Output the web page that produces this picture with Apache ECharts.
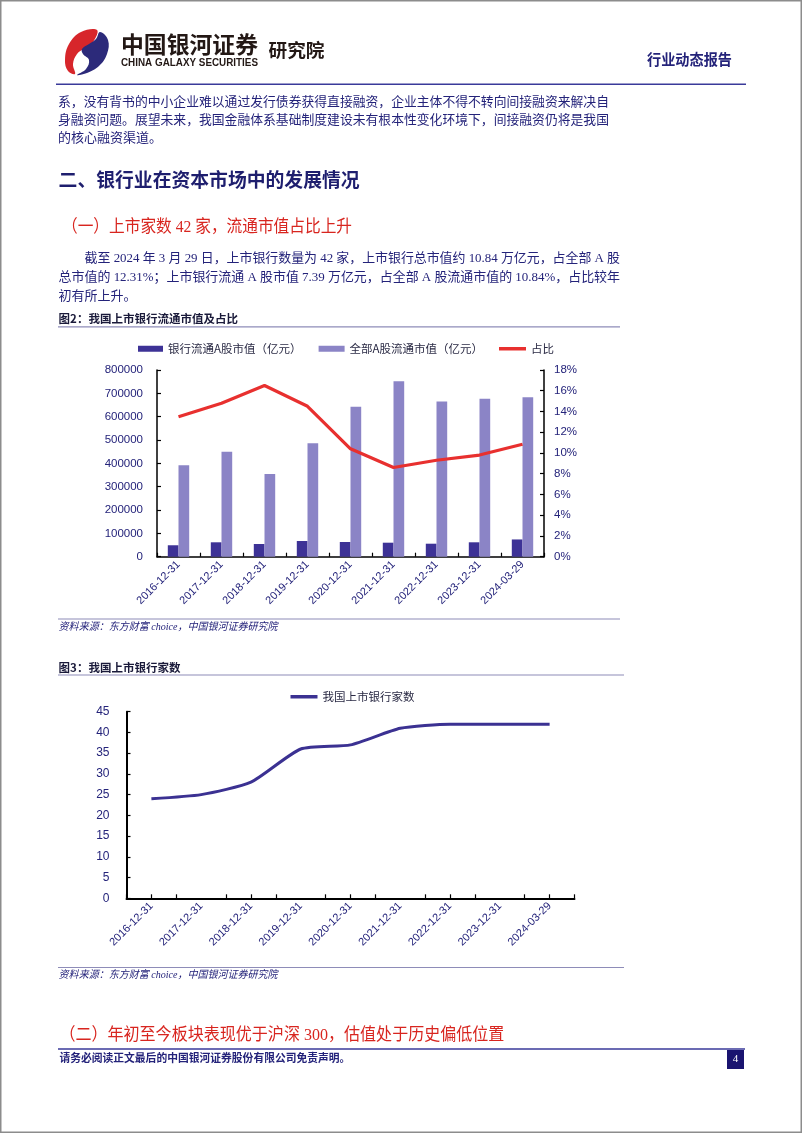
<!DOCTYPE html>
<html><head><meta charset="utf-8">
<script src="https://cdn.jsdelivr.net/npm/echarts@6/dist/echarts.min.js"></script>
<style>html,body{margin:0;padding:0;background:#fff}#c{width:802px;height:1133px}</style>
</head><body><div id="c"></div><script>
// ---------- data ----------
const dates = ['2016-12-31','2017-12-31','2018-12-31','2019-12-31','2020-12-31','2021-12-31','2022-12-31','2023-12-31','2024-03-29'];
const bankFloat = [49000, 61700, 54400, 67300, 63000, 60000, 55700, 61700, 73900];
const allFloat  = [391700, 450000, 354400, 486000, 643000, 752000, 665000, 677000, 683000];
const ratioPct  = [13.5, 14.8, 16.5, 14.5, 10.4, 8.6, 9.3, 9.8, 10.84];
const bankCount = [24, 25, 28, 36, 37, 41, 42, 42, 42];
const seriesNames1 = ['银行流通A股市值（亿元）', '全部A股流通市值（亿元）', '占比'];
const seriesName2 = '我国上市银行家数';

// ---------- styles ----------
const NAVY = '#24237a', RED = '#d8251f', DARKBAR = '#3d3296', LIGHTBAR = '#8b84c6', LINERED = '#e8302f', LINE2 = '#3b3192';
const SERIF = '"Liberation Serif","Noto Sans CJK SC"';
const SANS = '"Noto Sans CJK SC","Liberation Sans"';
const AX = '"Liberation Sans",Arial';

const mctx = document.createElement('canvas').getContext('2d');
function txt(text, x, y, font, fill, fitW) {
  let sx = 1;
  if (fitW) { mctx.font = font; const w = mctx.measureText(text).width; sx = fitW / w; }
  return { type: 'text', x: x, y: y, scaleX: sx, silent: true,
    style: { text: text, font: font, fill: fill, align: 'left', verticalAlign: 'middle', textAlign:'left', textVerticalAlign:'middle' } };
}
function hline(x1, x2, y, color, w) {
  return { type: 'line', silent: true, shape: { x1: x1, y1: y, x2: x2, y2: y }, style: { stroke: color, lineWidth: w } };
}

const g = [];
g.push({ type: 'rect', silent: true, shape: { x: 0.75, y: 0.75, width: 800.5, height: 1131.5 }, style: { fill: 'none', stroke: '#8c8c8c', lineWidth: 1.5 } });
// logo
g.push({ type: 'polygon', silent: true, x: 63, y: 28, shape: { smooth: 0.4, points: [[34,2],[18,4],[6,16],[2,32],[5,43],[12,46],[10,36],[14,26],[22,20],[30,14]] }, style: { fill: '#d7262b' } });
g.push({ type: 'polygon', silent: true, x: 63, y: 28, shape: { smooth: 0.4, points: [[37,4],[45,12],[44,26],[36,38],[24,45],[14,47],[23,41],[26,32],[20,26],[19,21],[26,16],[33,11]] }, style: { fill: '#2c2a7a' } });
g.push(txt('中国银河证券', 121, 44, 'bold 23px ' + SANS, '#231815', 137));
g.push(txt('CHINA GALAXY SECURITIES', 121, 63.5, 'bold 10.5px ' + AX, '#231815', 137));
g.push(txt('研究院', 268.5, 50, 'bold 18px ' + SANS, '#231815', 56));
g.push(txt('行业动态报告', 647, 59, 'bold 15px ' + SANS, NAVY, 85));
g.push(hline(56, 746, 84.3, '#3a3a9a', 1.5));
// body
g.push(txt('系，没有背书的中小企业难以通过发行债券获得直接融资，企业主体不得不转向间接融资来解决自', 58, 103, '13px ' + SERIF, NAVY, 551));
g.push(txt('身融资问题。展望未来，我国金融体系基础制度建设未有根本性变化环境下，间接融资仍将是我国', 58, 121, '13px ' + SERIF, NAVY, 551));
g.push(txt('的核心融资渠道。', 58, 139, '13px ' + SERIF, NAVY));
g.push(txt('二、银行业在资本市场中的发展情况', 58.6, 180, 'bold 19px ' + SANS, '#1e1e6e', 301));
g.push(txt('（一）上市家数 42 家，流通市值占比上升', 62, 227, '17.5px ' + SERIF, RED, 290));
g.push(txt('截至 2024 年 3 月 29 日，上市银行数量为 42 家，上市银行总市值约 10.84 万亿元，占全部 A 股', 84.6, 258.5, '13px ' + SERIF, NAVY, 535.4));
g.push(txt('总市值的 12.31%；上市银行流通 A 股市值 7.39 万亿元，占全部 A 股流通市值的 10.84%，占比较年', 58.6, 278, '13px ' + SERIF, NAVY, 561.4));
g.push(txt('初有所上升。', 58.6, 297, '13px ' + SERIF, NAVY));
// fig 2 title
g.push(txt('图2：我国上市银行流通市值及占比', 58.6, 319, 'bold 11.5px ' + SANS, '#1a1a3a'));
g.push(hline(58, 620, 326.8, '#8e8cb8', 1.2));
g.push(hline(58, 620, 619, '#8e8cb8', 1.2));
g.push(txt('资料来源：东方财富 choice，中国银河证券研究院', 58.6, 627, 'italic 10.5px ' + SERIF, NAVY, 219));
// fig 3 title
g.push(txt('图3：我国上市银行家数', 58.6, 667.5, 'bold 11.5px ' + SANS, '#1a1a3a'));
g.push(hline(58, 624, 675, '#8e8cb8', 1.2));
g.push(hline(58, 624, 967.5, '#8e8cb8', 1.2));
g.push(txt('资料来源：东方财富 choice，中国银河证券研究院', 58.6, 975.5, 'italic 10.5px ' + SERIF, NAVY, 219));
// footer
g.push(txt('（二）年初至今板块表现优于沪深 300，估值处于历史偏低位置', 59.4, 1035.5, '17.5px ' + SERIF, RED, 445));
g.push(hline(58, 745, 1049, '#3a3a9a', 1.5));
g.push(txt('请务必阅读正文最后的中国银河证券股份有限公司免责声明。', 59.4, 1059.5, 'bold 11px ' + SERIF, NAVY, 291));
g.push({ type: 'rect', silent: true, shape: { x: 727, y: 1050, width: 17, height: 19 }, style: { fill: '#1a1470' } });
g.push({ type: 'text', silent: true, x: 735.5, y: 1059.5, style: { text: '4', font: '11px ' + SERIF, fill: '#fff', align: 'center', verticalAlign: 'middle', textAlign:'center', textVerticalAlign:'middle' } });

const axLine = { show: true, lineStyle: { color: '#000', width: 1.5 } };
const axTick = { show: true, inside: true, length: 4, lineStyle: { color: '#000', width: 1.2 } };
const legendText = { fontFamily: SANS, fontSize: 11.5, color: '#2a2a44' };
const plain = v => String(v);

const chart = echarts.init(document.getElementById('c'), null, { renderer: 'canvas' });
chart.setOption({
  animation: false,
  backgroundColor: '#fff',
  graphic: g,
  legend: [
    { data: [{ name: seriesNames1[0], icon: 'rect' }], left: 133, top: 338, itemWidth: 25, itemHeight: 6, itemGap: 0, textStyle: legendText, selectedMode: false },
    { data: [{ name: seriesNames1[1], icon: 'rect' }], left: 313.6, top: 338, itemWidth: 26, itemHeight: 6, textStyle: legendText, selectedMode: false },
    { data: [{ name: seriesNames1[2], icon: 'rect' }], left: 494, top: 338, itemWidth: 27, itemHeight: 3.5, textStyle: legendText, selectedMode: false },
    { data: [{ name: seriesName2, icon: 'rect' }], left: 285.5, top: 686, itemWidth: 27, itemHeight: 3.5, textStyle: legendText, selectedMode: false }
  ],
  grid: [
    { left: 157, top: 370, width: 387, height: 186.7 },
    { left: 126.5, top: 711.7, width: 448, height: 186.6 }
  ],
  xAxis: [
    { type: 'category', gridIndex: 0, data: dates, boundaryGap: true, axisLine: axLine, axisTick: axTick,
      axisLabel: { rotate: 45, fontFamily: AX, fontSize: 11, color: NAVY, margin: 6, interval: 0 } },
    { type: 'category', gridIndex: 1, data: dates, boundaryGap: true, axisLine: { show: true, lineStyle: { color: '#000', width: 2 } }, axisTick: axTick,
      axisLabel: { rotate: 45, fontFamily: AX, fontSize: 11, color: NAVY, margin: 6, interval: 0 } },
    { type: 'category', gridIndex: 1, data: dates, boundaryGap: true, position: 'bottom', axisLine: { show: false },
      axisTick: { show: true, inside: true, alignWithLabel: true, length: 4, lineStyle: { color: '#000', width: 1.2 } },
      axisLabel: { show: false } }
  ],
  yAxis: [
    { type: 'value', gridIndex: 0, min: 0, max: 800000, interval: 100000, splitLine: { show: false }, axisLine: axLine, axisTick: axTick,
      axisLabel: { fontFamily: AX, fontSize: 11.5, color: NAVY, margin: 14, formatter: plain } },
    { type: 'value', gridIndex: 0, position: 'right', min: 0, max: 18, interval: 2, splitLine: { show: false }, axisLine: axLine, axisTick: axTick,
      axisLabel: { fontFamily: AX, fontSize: 11.5, color: NAVY, margin: 10, formatter: '{value}%' } },
    { type: 'value', gridIndex: 1, min: 0, max: 45, interval: 5, splitLine: { show: false }, axisLine: { show: true, lineStyle: { color: '#000', width: 2 } }, axisTick: axTick,
      axisLabel: { fontFamily: AX, fontSize: 12, color: NAVY, margin: 17, formatter: plain } }
  ],
  series: [
    { name: seriesNames1[0], type: 'bar', xAxisIndex: 0, yAxisIndex: 0, data: bankFloat, barWidth: 10.7, barGap: '0%', itemStyle: { color: DARKBAR } },
    { name: seriesNames1[1], type: 'bar', xAxisIndex: 0, yAxisIndex: 0, data: allFloat, barWidth: 10.7, barGap: '0%', itemStyle: { color: LIGHTBAR } },
    { name: seriesNames1[2], type: 'line', xAxisIndex: 0, yAxisIndex: 1, data: ratioPct, symbol: 'none', lineStyle: { color: LINERED, width: 3.2 }, itemStyle: { color: LINERED } },
    { name: seriesName2, type: 'line', xAxisIndex: 1, yAxisIndex: 2, data: bankCount, symbol: 'none', smooth: 0.2, lineStyle: { color: LINE2, width: 3 }, itemStyle: { color: LINE2 } }
  ]
});
</script></body></html>
